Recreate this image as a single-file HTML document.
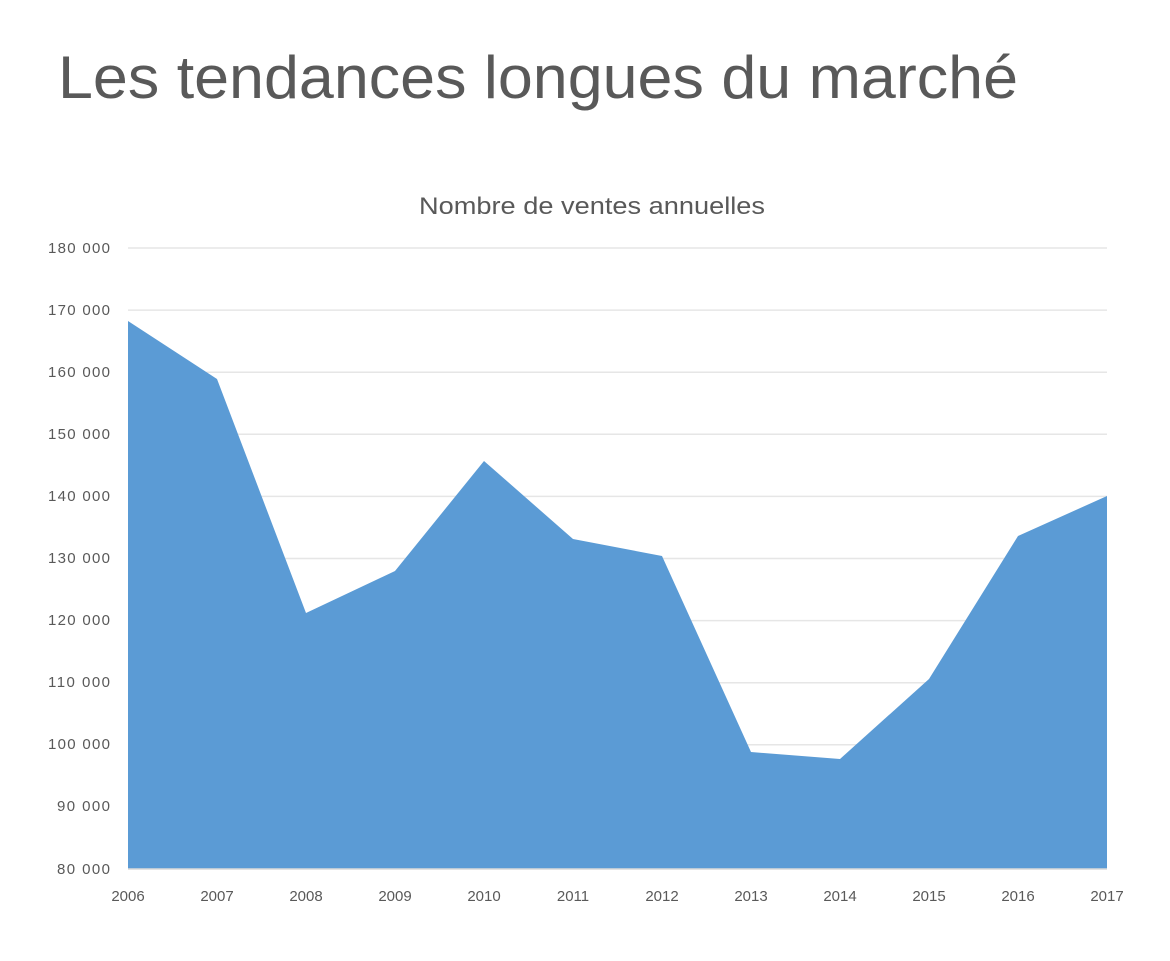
<!DOCTYPE html>
<html><head><meta charset="utf-8"><style>
html,body{margin:0;padding:0;background:#fff;}
svg{display:block;}
</style></head><body>
<svg width="1170" height="961" xmlns="http://www.w3.org/2000/svg" font-family="Liberation Sans, sans-serif">
<rect width="1170" height="961" fill="#fff"/>
<text x="58" y="98" font-size="60" fill="#595959" textLength="960" lengthAdjust="spacingAndGlyphs">Les tendances longues du marché</text>
<text x="419" y="214" font-size="24" fill="#595959" textLength="346" lengthAdjust="spacingAndGlyphs">Nombre de ventes annuelles</text>
<g stroke="#e6e6e6" stroke-width="1.5">
<line x1="128" x2="1107" y1="248" y2="248"/>
<line x1="128" x2="1107" y1="310.1" y2="310.1"/>
<line x1="128" x2="1107" y1="372.2" y2="372.2"/>
<line x1="128" x2="1107" y1="434.3" y2="434.3"/>
<line x1="128" x2="1107" y1="496.4" y2="496.4"/>
<line x1="128" x2="1107" y1="558.5" y2="558.5"/>
<line x1="128" x2="1107" y1="620.6" y2="620.6"/>
<line x1="128" x2="1107" y1="682.7" y2="682.7"/>
<line x1="128" x2="1107" y1="744.8" y2="744.8"/>
<line x1="128" x2="1107" y1="806.9" y2="806.9"/>
</g>
<polygon fill="#5b9bd5" points="128,869 128,321 217,379 306,613 395,571 484,461 573,539 662,556 751,752 840,759 929,679 1018,536 1107,496 1107,869"/>
<line x1="128" x2="1107" y1="869" y2="869" stroke="#d9d9d9" stroke-width="1.5"/>
<g font-size="15" fill="#595959" lengthAdjust="spacingAndGlyphs">
<text x="48" y="253" textLength="62">180 000</text>
<text x="48" y="315" textLength="62">170 000</text>
<text x="48" y="377" textLength="62">160 000</text>
<text x="48" y="439" textLength="62">150 000</text>
<text x="48" y="501" textLength="62">140 000</text>
<text x="48" y="563" textLength="62">130 000</text>
<text x="48" y="625" textLength="62">120 000</text>
<text x="48" y="687" textLength="62">110 000</text>
<text x="48" y="749" textLength="62">100 000</text>
<text x="57" y="811" textLength="53">90 000</text>
<text x="57" y="874" textLength="53">80 000</text>
</g>
<g font-size="15" fill="#595959" text-anchor="middle">
<text x="128" y="901">2006</text>
<text x="217" y="901">2007</text>
<text x="306" y="901">2008</text>
<text x="395" y="901">2009</text>
<text x="484" y="901">2010</text>
<text x="573" y="901">2011</text>
<text x="662" y="901">2012</text>
<text x="751" y="901">2013</text>
<text x="840" y="901">2014</text>
<text x="929" y="901">2015</text>
<text x="1018" y="901">2016</text>
<text x="1107" y="901">2017</text>
</g>
</svg>
</body></html>
